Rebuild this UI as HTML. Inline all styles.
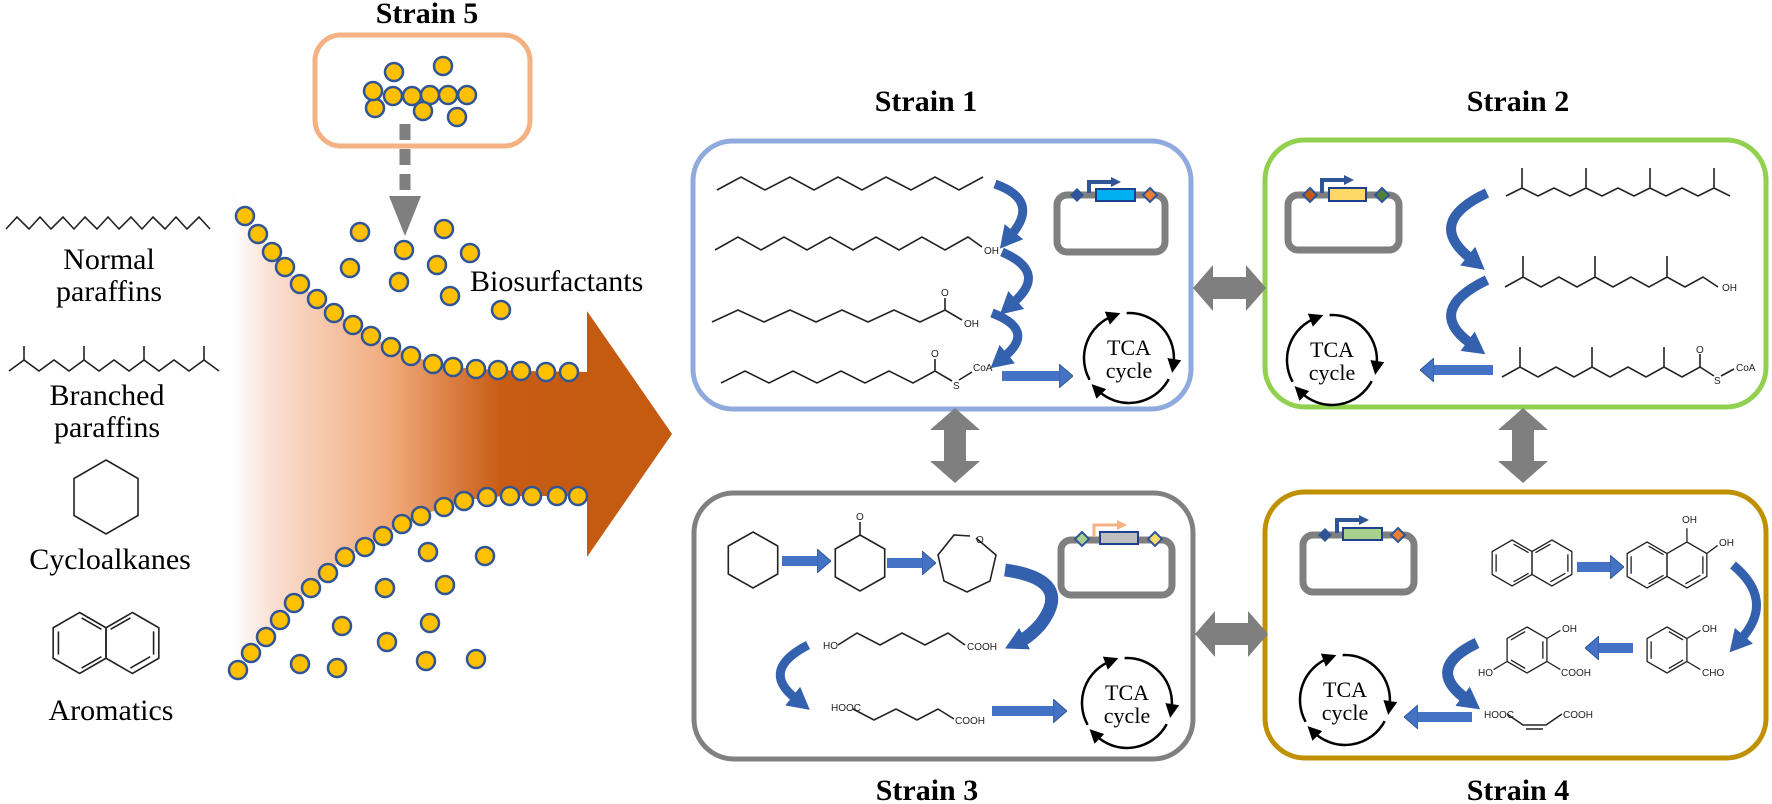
<!DOCTYPE html>
<html><head><meta charset="utf-8">
<style>
html,body{margin:0;padding:0;background:#fff;}
svg{display:block;}
.t{font-family:"Liberation Serif",serif;fill:#000;}
.s{font-family:"Liberation Sans",sans-serif;fill:#222;font-size:10px;}
.m{fill:none;stroke:#222;stroke-width:1.6;}
.u *{vector-effect:non-scaling-stroke;}
</style></head>
<body>
<svg width="1772" height="804" viewBox="0 0 1772 804" xmlns="http://www.w3.org/2000/svg">
<defs>
<linearGradient id="g" x1="232" y1="0" x2="590" y2="0" gradientUnits="userSpaceOnUse">
<stop offset="0" stop-color="#ffffff"/>
<stop offset="0.12" stop-color="#f9ddd0"/>
<stop offset="0.45" stop-color="#f0a878"/>
<stop offset="0.75" stop-color="#c85c15"/>
<stop offset="1" stop-color="#c55a11"/>
</linearGradient>
<marker id="ah" markerUnits="userSpaceOnUse" markerWidth="22" markerHeight="24" refX="3" refY="12" orient="auto" viewBox="0 0 22 24"><path d="M0,0 L22,12 L0,24 z" fill="#3461ad"/></marker>
<marker id="bh" markerUnits="userSpaceOnUse" markerWidth="14" markerHeight="24" refX="1" refY="12" orient="auto" viewBox="0 0 14 24"><path d="M0,0 L14,12 L0,24 z" fill="#4472c4" stroke="#2f5597" stroke-width="1"/></marker>
<marker id="kh" markerUnits="userSpaceOnUse" markerWidth="14" markerHeight="14" refX="6" refY="7" orient="auto" viewBox="0 0 14 14"><path d="M0,0 L14,7 L0,14 z" fill="#000"/></marker>
<marker id="phb" markerUnits="userSpaceOnUse" markerWidth="10" markerHeight="10" refX="1" refY="5" orient="auto" viewBox="0 0 10 10"><path d="M0,0 L10,5 L0,10 z" fill="#2f5597"/></marker>
<marker id="pho" markerUnits="userSpaceOnUse" markerWidth="10" markerHeight="10" refX="1" refY="5" orient="auto" viewBox="0 0 10 10"><path d="M0,0 L10,5 L0,10 z" fill="#f4b183"/></marker>
</defs>

<!-- Strain 5 -->
<text class="t" x="427" y="23" font-size="30" font-weight="bold" text-anchor="middle">Strain 5</text>
<rect x="315" y="35" width="215" height="111" rx="26" fill="none" stroke="#f4b183" stroke-width="5"/>
<g fill="#ffc000" stroke="#2f5597" stroke-width="2.5">
<circle cx="394" cy="72" r="9"/><circle cx="443" cy="66" r="9"/>
<circle cx="375" cy="108" r="9"/><circle cx="373" cy="91" r="9"/>
<circle cx="393" cy="96" r="9"/><circle cx="412" cy="96" r="9"/><circle cx="430" cy="95" r="9"/>
<circle cx="448" cy="95" r="9"/><circle cx="467" cy="95" r="9"/>
<circle cx="423" cy="111" r="9"/><circle cx="457" cy="117" r="9"/>
</g>
<line x1="405" y1="124" x2="405" y2="196" stroke="#7f7f7f" stroke-width="11" stroke-dasharray="16 9"/>
<polygon points="389,196 421,196 405,236" fill="#7f7f7f"/>

<!-- big gradient arrow -->
<path d="M232 190 L245 216 L258 234 L272 252 L285 267 L300 284 L317 299 L334 313 L353 325 L371 336 L391 347 L411 354 L433 364 L453 367 L476 369 L521 371 L587 372 L587 311 L672 434 L587 557 L587 496 L557 496 L510 496 L487 497 L464 501 L444 507 L421 516 L402 524 L383 536 L365 547 L345 557 L328 573 L311 588 L294 603 L280 620 L266 637 L251 653 L238 670 L232 690 Z" fill="url(#g)"/>
<g fill="#ffc000" stroke="#2f5597" stroke-width="2.5">
<circle cx="245" cy="216" r="9"/><circle cx="258" cy="234" r="9"/><circle cx="272" cy="252" r="9"/><circle cx="285" cy="267" r="9"/><circle cx="300" cy="284" r="9"/><circle cx="317" cy="299" r="9"/><circle cx="334" cy="313" r="9"/><circle cx="353" cy="325" r="9"/><circle cx="371" cy="336" r="9"/><circle cx="391" cy="347" r="9"/><circle cx="411" cy="356" r="9"/><circle cx="433" cy="364" r="9"/><circle cx="453" cy="367" r="9"/><circle cx="476" cy="369" r="9"/><circle cx="498" cy="370" r="9"/><circle cx="521" cy="371" r="9"/><circle cx="546" cy="372" r="9"/><circle cx="569" cy="372" r="9"/>
<circle cx="238" cy="670" r="9"/><circle cx="251" cy="653" r="9"/><circle cx="266" cy="637" r="9"/><circle cx="280" cy="620" r="9"/><circle cx="294" cy="603" r="9"/><circle cx="311" cy="588" r="9"/><circle cx="328" cy="573" r="9"/><circle cx="345" cy="557" r="9"/><circle cx="365" cy="547" r="9"/><circle cx="383" cy="536" r="9"/><circle cx="402" cy="524" r="9"/><circle cx="421" cy="516" r="9"/><circle cx="444" cy="507" r="9"/><circle cx="464" cy="501" r="9"/><circle cx="487" cy="497" r="9"/><circle cx="510" cy="496" r="9"/><circle cx="532" cy="496" r="9"/><circle cx="557" cy="496" r="9"/><circle cx="578" cy="496" r="9"/>
<circle cx="360" cy="232" r="9"/><circle cx="444" cy="229" r="9"/><circle cx="404" cy="250" r="9"/><circle cx="470" cy="253" r="9"/><circle cx="350" cy="268" r="9"/><circle cx="437" cy="265" r="9"/><circle cx="399" cy="282" r="9"/><circle cx="450" cy="296" r="9"/><circle cx="501" cy="310" r="9"/>
<circle cx="428" cy="552" r="9"/><circle cx="485" cy="556" r="9"/><circle cx="385" cy="588" r="9"/><circle cx="445" cy="585" r="9"/><circle cx="342" cy="626" r="9"/><circle cx="430" cy="623" r="9"/><circle cx="387" cy="642" r="9"/><circle cx="300" cy="664" r="9"/><circle cx="337" cy="668" r="9"/><circle cx="426" cy="661" r="9"/><circle cx="476" cy="659" r="9"/>
</g>
<text class="t" x="470" y="291" font-size="30">Biosurfactants</text>

<!-- left legend -->
<polyline class="m" points="6,229 17,217 29,229 40,217 51,229 63,217 74,229 85,217 97,229 108,217 119,229 131,217 142,229 153,217 165,229 176,217 187,229 199,217 210,229"/>
<text class="t" x="109" y="269" font-size="30" text-anchor="middle">Normal</text>
<text class="t" x="109" y="301" font-size="30" text-anchor="middle">paraffins</text>
<polyline class="m" points="9,371 24,360 39,371 54,360 69,371 84,360 99,371 114,360 129,371 144,360 159,371 174,360 189,371 204,360 219,371"/>
<path class="m" d="M24 360V346 M84 360V346 M144 360V346 M204 360V346"/>
<text class="t" x="107" y="405" font-size="30" text-anchor="middle">Branched</text>
<text class="t" x="107" y="437" font-size="30" text-anchor="middle">paraffins</text>
<polygon class="m" points="106,460 138,478.5 138,515.5 106,534 74,515.5 74,478.5"/>
<text class="t" x="110" y="569" font-size="30" text-anchor="middle">Cycloalkanes</text>
<g class="u" transform="translate(106,643) scale(30.5)"><g fill="none" stroke="#222" stroke-width="1.6">
<polygon points="-.866,-1 0,-.5 0,.5 -.866,1 -1.732,.5 -1.732,-.5"/>
<polygon points=".866,-1 1.732,-.5 1.732,.5 .866,1 0,.5 0,-.5"/>
<line x1="-1.56" y1="-.38" x2="-1.56" y2=".38"/><line x1="-.8" y1="-.82" x2="-.15" y2="-.45"/><line x1="-.8" y1=".82" x2="-.15" y2=".45"/>
<line x1="1.56" y1="-.38" x2="1.56" y2=".38"/><line x1=".8" y1="-.82" x2=".15" y2="-.45"/><line x1=".8" y1=".82" x2="1.45" y2=".45"/>
</g></g>
<text class="t" x="111" y="720" font-size="30" text-anchor="middle">Aromatics</text>

<!-- Boxes -->
<rect x="693" y="141" width="498" height="268" rx="40" fill="none" stroke="#8faadc" stroke-width="5"/>
<rect x="1265" y="140" width="501" height="267" rx="40" fill="none" stroke="#92d050" stroke-width="5"/>
<rect x="694" y="493" width="499" height="266" rx="40" fill="none" stroke="#808080" stroke-width="5"/>
<rect x="1265" y="492" width="501" height="266" rx="40" fill="none" stroke="#bf9000" stroke-width="5"/>
<text class="t" x="926" y="111" font-size="30" font-weight="bold" text-anchor="middle">Strain 1</text>
<text class="t" x="1518" y="111" font-size="30" font-weight="bold" text-anchor="middle">Strain 2</text>
<text class="t" x="927" y="800" font-size="30" font-weight="bold" text-anchor="middle">Strain 3</text>
<text class="t" x="1518" y="800" font-size="30" font-weight="bold" text-anchor="middle">Strain 4</text>

<!-- double arrows -->
<g fill="#7f7f7f">
<polygon points="955,408 980,430 966,430 966,461 980,461 955,483 930,461 944,461 944,430 930,430"/>
<polygon points="1523,408 1548,430 1534,430 1534,461 1548,461 1523,483 1498,461 1512,461 1512,430 1498,430"/>
<polygon points="1193,288 1213,265 1213,277 1246,277 1246,265 1266,288 1246,311 1246,299 1213,299 1213,311"/>
<polygon points="1195,634 1215,611 1215,623 1248,623 1248,611 1268,634 1248,657 1248,645 1215,645 1215,657"/>
</g>

<!-- Strain 1 -->
<polyline class="m" points="717,190 741,177 765,190 790,177 814,190 838,177 862,190 886,177 911,190 935,177 959,190 983,177"/>
<polyline class="m" points="715,250 738,237 761,250 784,237 807,250 830,237 853,250 876,237 899,250 922,237 945,250 968,237 982,247"/>
<text class="s" x="984" y="254" font-size="9">OH</text>
<polyline class="m" points="712,322 738,310 764,322 790,310 816,322 842,310 868,322 894,310 920,322 945,310 962,320"/>
<line class="m" x1="945" y1="310" x2="945" y2="298"/><text class="s" x="941" y="296" font-size="9">O</text>
<text class="s" x="964" y="327" font-size="9">OH</text>
<polyline class="m" points="721,383 745,371 769,383 793,371 817,383 841,371 865,383 889,371 913,383 935,371 952,381"/>
<line class="m" x1="935" y1="371" x2="935" y2="359"/><text class="s" x="931" y="357" font-size="9">O</text>
<text class="s" x="953" y="389" font-size="8">S</text><line class="m" x1="959" y1="380" x2="972" y2="372"/>
<text class="s" x="973" y="371" font-size="8">CoA</text>
<g fill="none" stroke="#3461ad" stroke-width="9">
<path d="M995 184 Q1040 200 1012 234" marker-end="url(#ah)"/>
<path d="M1002 252 Q1048 272 1014 302" marker-end="url(#ah)"/>
<path d="M992 313 Q1036 330 1005 356" marker-end="url(#ah)"/>
</g>
<line x1="1002" y1="376" x2="1060" y2="376" stroke="#4472c4" stroke-width="10" marker-end="url(#bh)"/>
<rect x="1057" y="195" width="108" height="57" rx="10" fill="none" stroke="#7f7f7f" stroke-width="7"/>
<rect x="1096" y="189" width="39" height="12" fill="#00b0f0" stroke="#1f3f8f" stroke-width="2"/>
<polygon points="1077,188 1084,195 1077,202 1070,195" fill="#2f5597"/>
<polygon points="1150,188 1157,195 1150,202 1143,195" fill="#ed7d31" stroke="#2f5597" stroke-width="2"/>
<path d="M1089 193 V182 H1112" fill="none" stroke="#2f5597" stroke-width="4" marker-end="url(#phb)"/>

<!-- Strain 2 -->
<polyline class="m" points="1506,196 1522,188 1538,196 1554,188 1570,196 1586,188 1602,196 1618,188 1634,196 1650,188 1666,196 1682,188 1698,196 1714,188 1730,196"/>
<path class="m" d="M1522 188V168 M1586 188V168 M1650 188V168 M1714 188V168"/>
<polyline class="m" points="1505,287 1523,277 1541,287 1559,277 1577,287 1595,277 1613,287 1631,277 1649,287 1667,277 1685,287 1703,277 1718,287"/>
<path class="m" d="M1523 277V256 M1595 277V256 M1667 277V256"/>
<text class="s" x="1722" y="291" font-size="9">OH</text>
<polyline class="m" points="1502,377 1520,367 1538,377 1556,367 1574,377 1592,367 1610,377 1628,367 1646,377 1664,367 1682,377 1700,367 1714,376"/>
<path class="m" d="M1520 367V347 M1592 367V347 M1664 367V347 M1700 367V354"/>
<text class="s" x="1696" y="353" font-size="9">O</text>
<text class="s" x="1714" y="384" font-size="8">S</text><line class="m" x1="1721" y1="376" x2="1734" y2="369"/>
<text class="s" x="1736" y="371" font-size="8">CoA</text>
<g fill="none" stroke="#3461ad" stroke-width="10">
<path d="M1487 193 Q1425 222 1470 258" marker-end="url(#ah)"/>
<path d="M1487 280 Q1425 310 1470 343" marker-end="url(#ah)"/>
</g>
<line x1="1493" y1="370" x2="1433" y2="370" stroke="#4472c4" stroke-width="10" marker-end="url(#bh)"/>
<rect x="1288" y="195" width="111" height="55" rx="10" fill="none" stroke="#7f7f7f" stroke-width="7"/>
<rect x="1329" y="188" width="37" height="13" fill="#ffd966" stroke="#1f3f8f" stroke-width="2"/>
<polygon points="1310,188 1317,195 1310,202 1303,195" fill="#c55a11" stroke="#2f5597" stroke-width="2"/>
<polygon points="1382,188 1389,195 1382,202 1375,195" fill="#548235" stroke="#2f5597" stroke-width="2"/>
<path d="M1322 193 V180 H1345" fill="none" stroke="#2f5597" stroke-width="4" marker-end="url(#phb)"/>

<!-- Strain 3 -->
<polygon class="m" points="753,532 777.7,546 777.7,574 753,588 728.3,574 728.3,546"/>
<line x1="782" y1="561" x2="818" y2="561" stroke="#4472c4" stroke-width="10" marker-end="url(#bh)"/>
<polygon class="m" points="860,535 884.7,549 884.7,577 860,591 835.3,577 835.3,549"/>
<line class="m" x1="860" y1="535" x2="860" y2="522"/><text class="s" x="856" y="520" font-size="10">O</text>
<line x1="887" y1="563" x2="923" y2="563" stroke="#4472c4" stroke-width="10" marker-end="url(#bh)"/>
<polyline class="m" points="976,538 996,555 990,581 967,592 944,581 938,555 954,535 970,536"/>
<text class="s" x="976" y="543" font-size="9">O</text>
<path d="M1005 570 Q1075 580 1040 625 Q1030 636 1022 640" fill="none" stroke="#3461ad" stroke-width="13" marker-end="url(#ah)"/>
<text class="s" x="823" y="649" font-size="9">HO</text>
<polyline class="m" points="838,645 857,633 880,645 902,633 925,645 948,633 965,645"/>
<text class="s" x="967" y="650" font-size="9">COOH</text>
<path d="M808 645 Q760 670 795 698" fill="none" stroke="#3461ad" stroke-width="9" marker-end="url(#ah)"/>
<text class="s" x="831" y="711" font-size="9">HOOC</text>
<polyline class="m" points="853,709 874,720 896,709 917,720 938,709 954,719"/>
<text class="s" x="955" y="724" font-size="9">COOH</text>
<line x1="992" y1="711" x2="1054" y2="711" stroke="#4472c4" stroke-width="10" marker-end="url(#bh)"/>
<rect x="1061" y="540" width="111" height="55" rx="10" fill="none" stroke="#7f7f7f" stroke-width="7"/>
<rect x="1100" y="532" width="38" height="12" fill="#bfbfbf" stroke="#1f3f8f" stroke-width="2"/>
<polygon points="1082,532 1089,539 1082,546 1075,539" fill="#a9d18e" stroke="#2f5597" stroke-width="2"/>
<polygon points="1155,532 1162,539 1155,546 1148,539" fill="#ffd966" stroke="#2f5597" stroke-width="2"/>
<path d="M1094 537 V525 H1118" fill="none" stroke="#f4b183" stroke-width="3" marker-end="url(#pho)"/>

<!-- Strain 4 -->
<rect x="1303" y="535" width="111" height="57" rx="10" fill="none" stroke="#7f7f7f" stroke-width="7"/>
<rect x="1343" y="528" width="39" height="12" fill="#a9d18e" stroke="#1f3f8f" stroke-width="2"/>
<polygon points="1325,528 1332,535 1325,542 1318,535" fill="#2f5597"/>
<polygon points="1398,528 1405,535 1398,542 1391,535" fill="#ed7d31" stroke="#2f5597" stroke-width="2"/>
<path d="M1337 533 V520 H1360" fill="none" stroke="#2f5597" stroke-width="4" marker-end="url(#phb)"/>
<g class="u" transform="translate(1532,563) scale(23)"><g fill="none" stroke="#222" stroke-width="1.3">
<polygon points="-.866,-1 0,-.5 0,.5 -.866,1 -1.732,.5 -1.732,-.5"/>
<polygon points=".866,-1 1.732,-.5 1.732,.5 .866,1 0,.5 0,-.5"/>
<line x1="-1.56" y1="-.38" x2="-1.56" y2=".38"/><line x1="-.8" y1="-.82" x2="-.15" y2="-.45"/><line x1="-.8" y1=".82" x2="-.15" y2=".45"/>
<line x1="1.56" y1="-.38" x2="1.56" y2=".38"/><line x1=".8" y1="-.82" x2=".15" y2="-.45"/><line x1=".8" y1=".82" x2="1.45" y2=".45"/>
</g></g>
<line x1="1577" y1="567" x2="1611" y2="567" stroke="#4472c4" stroke-width="10" marker-end="url(#bh)"/>
<g class="u" transform="translate(1667,565) scale(23)"><g fill="none" stroke="#222" stroke-width="1.3">
<polygon points="-.866,-1 0,-.5 0,.5 -.866,1 -1.732,.5 -1.732,-.5"/>
<polygon points=".866,-1 1.732,-.5 1.732,.5 .866,1 0,.5 0,-.5"/>
<line x1="-1.56" y1="-.38" x2="-1.56" y2=".38"/><line x1="-.8" y1="-.82" x2="-.15" y2="-.45"/><line x1="-.8" y1=".82" x2="-.15" y2=".45"/>
<line x1="1.56" y1="-.38" x2="1.56" y2=".38"/><line x1=".8" y1=".82" x2="1.45" y2=".45"/>
<line x1=".866" y1="-1" x2=".866" y2="-1.6"/><line x1="1.732" y1="-.5" x2="2.2" y2="-.85"/>
</g></g>
<text class="s" x="1682" y="523" font-size="9">OH</text>
<text class="s" x="1719" y="546" font-size="9">OH</text>
<path d="M1733 565 Q1775 600 1742 638" fill="none" stroke="#3461ad" stroke-width="9" marker-end="url(#ah)"/>
<g class="u" transform="translate(1667,650) scale(23)"><g fill="none" stroke="#222" stroke-width="1.3">
<polygon points="0,-1 .866,-.5 .866,.5 0,1 -.866,.5 -.866,-.5"/>
<line x1="-.69" y1="-.38" x2="-.69" y2=".38"/><line x1=".08" y1="-.8" x2=".7" y2="-.44"/><line x1=".08" y1=".8" x2=".7" y2=".44"/>
<line x1=".866" y1="-.5" x2="1.45" y2="-.85"/><line x1=".866" y1=".5" x2="1.45" y2=".85"/>
</g></g>
<text class="s" x="1702" y="632" font-size="9">OH</text>
<text class="s" x="1702" y="676" font-size="9">CHO</text>
<line x1="1633" y1="648" x2="1598" y2="648" stroke="#4472c4" stroke-width="10" marker-end="url(#bh)"/>
<g class="u" transform="translate(1527,650) scale(23)"><g fill="none" stroke="#222" stroke-width="1.3">
<polygon points="0,-1 .866,-.5 .866,.5 0,1 -.866,.5 -.866,-.5"/>
<line x1=".69" y1="-.38" x2=".69" y2=".38"/><line x1="-.08" y1="-.8" x2="-.7" y2="-.44"/><line x1="-.08" y1=".8" x2="-.7" y2=".44"/>
<line x1=".866" y1="-.5" x2="1.45" y2="-.85"/><line x1=".866" y1=".5" x2="1.45" y2=".85"/><line x1="-.866" y1=".5" x2="-1.45" y2=".85"/>
</g></g>
<text class="s" x="1562" y="632" font-size="9">OH</text>
<text class="s" x="1561" y="676" font-size="9">COOH</text>
<text class="s" x="1478" y="676" font-size="9">HO</text>
<path d="M1477 643 Q1425 668 1465 698" fill="none" stroke="#3461ad" stroke-width="11" marker-end="url(#ah)"/>
<text class="s" x="1484" y="718" font-size="9">HOOC</text>
<polyline class="m" points="1507,714 1523,725 1546,725 1562,714"/>
<line class="m" x1="1526" y1="729" x2="1543" y2="729"/>
<text class="s" x="1563" y="718" font-size="9">COOH</text>
<line x1="1472" y1="717" x2="1417" y2="717" stroke="#4472c4" stroke-width="10" marker-end="url(#bh)"/>

<!-- TCA cycles -->
<g transform="translate(1129,358)">
<g fill="none" stroke="#000" stroke-width="2.5" marker-end="url(#kh)"><path d="M-39.4 21.8 A45 45 0 0 1 -16.1 -42"/><path d="M-2.4 -44.9 A45 45 0 0 1 44.4 7"/><path d="M39.7 21.1 A45 45 0 0 1 -31.8 31.8"/></g>
<text class="t" x="0" y="-3" font-size="22" text-anchor="middle">TCA</text><text class="t" x="0" y="20" font-size="22" text-anchor="middle">cycle</text></g>
<g transform="translate(1332,360)">
<g fill="none" stroke="#000" stroke-width="2.5" marker-end="url(#kh)"><path d="M-39.4 21.8 A45 45 0 0 1 -16.1 -42"/><path d="M-2.4 -44.9 A45 45 0 0 1 44.4 7"/><path d="M39.7 21.1 A45 45 0 0 1 -31.8 31.8"/></g>
<text class="t" x="0" y="-3" font-size="22" text-anchor="middle">TCA</text><text class="t" x="0" y="20" font-size="22" text-anchor="middle">cycle</text></g>
<g transform="translate(1127,703)">
<g fill="none" stroke="#000" stroke-width="2.5" marker-end="url(#kh)"><path d="M-39.4 21.8 A45 45 0 0 1 -16.1 -42"/><path d="M-2.4 -44.9 A45 45 0 0 1 44.4 7"/><path d="M39.7 21.1 A45 45 0 0 1 -31.8 31.8"/></g>
<text class="t" x="0" y="-3" font-size="22" text-anchor="middle">TCA</text><text class="t" x="0" y="20" font-size="22" text-anchor="middle">cycle</text></g>
<g transform="translate(1345,700)">
<g fill="none" stroke="#000" stroke-width="2.5" marker-end="url(#kh)"><path d="M-39.4 21.8 A45 45 0 0 1 -16.1 -42"/><path d="M-2.4 -44.9 A45 45 0 0 1 44.4 7"/><path d="M39.7 21.1 A45 45 0 0 1 -31.8 31.8"/></g>
<text class="t" x="0" y="-3" font-size="22" text-anchor="middle">TCA</text><text class="t" x="0" y="20" font-size="22" text-anchor="middle">cycle</text></g>
</svg>
</body></html>
